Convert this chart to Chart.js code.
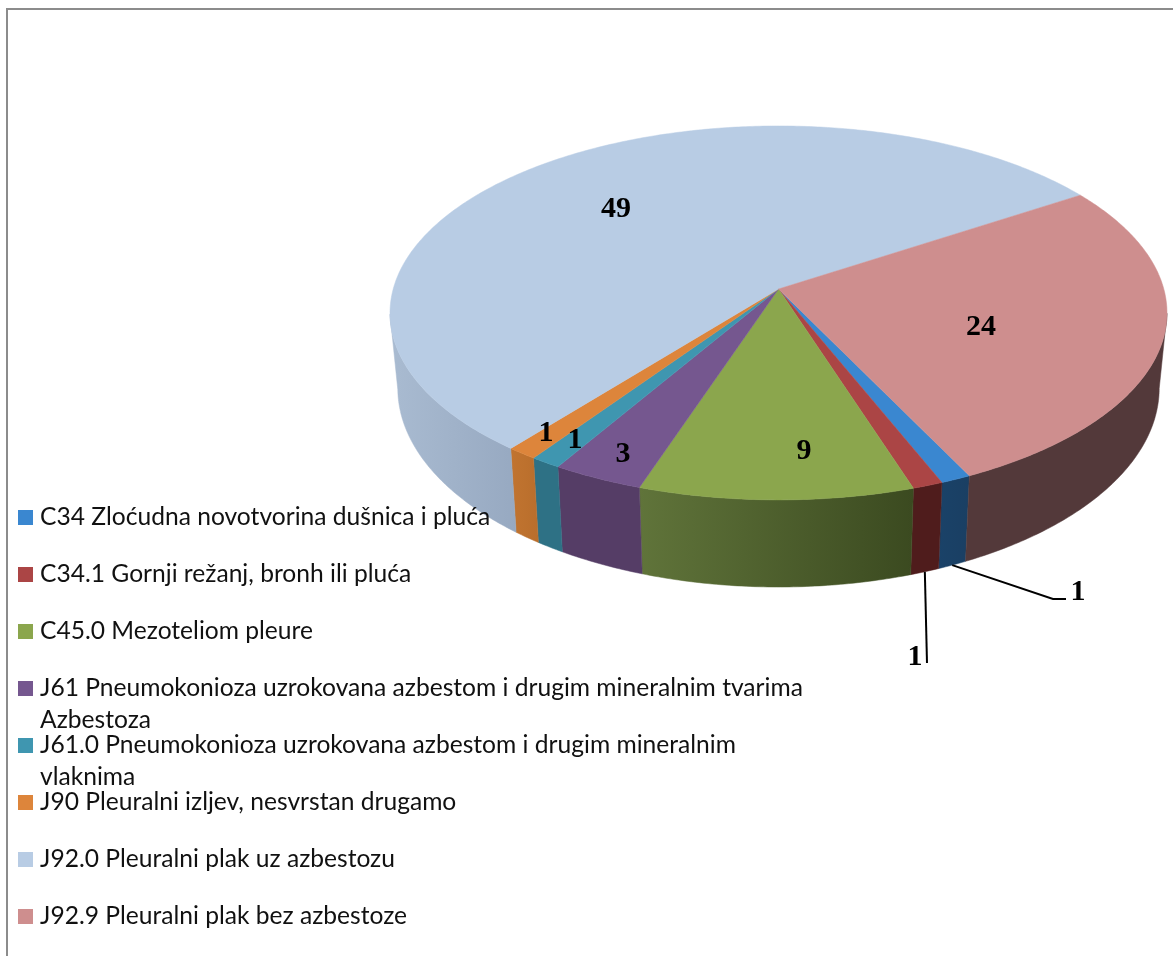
<!DOCTYPE html>
<html><head><meta charset="utf-8">
<style>html,body{margin:0;padding:0;background:#fff;overflow:hidden}canvas{display:block}</style>
<script src="https://cdn.jsdelivr.net/npm/chart.js@4"></script>
</head><body><canvas id="c" width="1173" height="956"></canvas>
<script>
const categories = [
  ["C34 Zloćudna novotvorina dušnica i pluća"],
  ["C34.1 Gornji režanj, bronh ili pluća"],
  ["C45.0 Mezoteliom pleure"],
  ["J61 Pneumokonioza uzrokovana azbestom i drugim mineralnim tvarima","Azbestoza"],
  ["J61.0 Pneumokonioza uzrokovana azbestom i drugim mineralnim","vlaknima"],
  ["J90 Pleuralni izljev, nesvrstan drugamo"],
  ["J92.0 Pleuralni plak uz azbestozu"],
  ["J92.9 Pleuralni plak bez azbestoze"]
];
const values = [1,1,9,3,1,1,49,24];
const topColors = ["#3a87d0","#ab4545","#8ba64d","#75578f","#3f96b0","#dd853b","#b8cce4","#ce8e8e"];
const wallLeft  = ["#1a4268","#4f1c1c","#60743a","#553d66","#2e7185","#c17430","#a9bbd1","#53393a"];
const wallRight = ["#1a3f63","#4f1c1c","#3b4a20","#553d66","#2e7185","#b96e2c","#97a9c1","#53393a"];
const labelSpots = [[1078,590],[915,655],[804,449],[623,452],[575,438],[546,431],[616,207],[981,325]];
const leaderBends = [[[1053,599],[1066,599]],[[927,663]],null,null,null,null,null,null];

const P = {cx:778.5, cy:289, R:385.3, Ry:183.9, k:0.128, cyB:362.6, RyB:195.7, shrink:0.98};
const topPt = a => {const w=1-P.k*Math.sin(a);return [P.cx+P.R*Math.cos(a)/w, P.cy+P.Ry*Math.sin(a)/w];};
const botPt = a => {const w=1-P.k*Math.sin(a);return [P.cx+P.shrink*P.R*Math.cos(a)/w, P.cyB+P.RyB*Math.sin(a)/w];};
const arcAngles = (s,e) => {const n=Math.max(2,Math.ceil((e-s)/0.01));return Array.from({length:n+1},(_,i)=>s+(e-s)*i/n);};

const pie3d = {
  id:'pie3d',
  beforeDatasetsDraw(chart){
    const ctx=chart.ctx, arcs=chart.getDatasetMeta(0).data;
    ctx.save(); ctx.lineJoin='round';
    // walls: only the part in front of the two side tangents
    arcs.forEach((el,i)=>{
      const angs=arcAngles(el.startAngle,el.endAngle).filter(a=>Math.sin(a)>P.k);
      if(angs.length<2) return;
      const t=angs.map(topPt), b=angs.map(botPt).reverse(), pts=t.concat(b);
      const xs=pts.map(p=>p[0]);
      const g=ctx.createLinearGradient(Math.min(...xs),0,Math.max(...xs),0);
      g.addColorStop(0,wallLeft[i]); g.addColorStop(1,wallRight[i]);
      ctx.beginPath(); pts.forEach((p,j)=>j?ctx.lineTo(p[0],p[1]):ctx.moveTo(p[0],p[1])); ctx.closePath();
      ctx.fillStyle=g; ctx.strokeStyle=g; ctx.lineWidth=0.5; ctx.fill(); ctx.stroke();
    });
    // tops
    arcs.forEach((el,i)=>{
      const pts=arcAngles(el.startAngle,el.endAngle).map(topPt);
      ctx.beginPath(); ctx.moveTo(P.cx,P.cy); pts.forEach(p=>ctx.lineTo(p[0],p[1])); ctx.closePath();
      ctx.fillStyle=topColors[i]; ctx.strokeStyle=topColors[i]; ctx.lineWidth=0.5; ctx.fill(); ctx.stroke();
    });
    ctx.restore();
    return false;
  },
  afterDraw(chart){
    const ctx=chart.ctx, arcs=chart.getDatasetMeta(0).data;
    ctx.save();
    // frame
    ctx.strokeStyle='#8c8c8c'; ctx.lineWidth=2;
    ctx.beginPath(); ctx.moveTo(7,956); ctx.lineTo(7,9); ctx.lineTo(1173,9); ctx.stroke();
    // leader lines
    ctx.strokeStyle='#000'; ctx.lineWidth=2;
    arcs.forEach((el,i)=>{
      if(!leaderBends[i]) return;
      const s=botPt((el.startAngle+el.endAngle)/2);
      ctx.beginPath(); ctx.moveTo(s[0],s[1]); leaderBends[i].forEach(p=>ctx.lineTo(p[0],p[1])); ctx.stroke();
    });
    // value labels
    ctx.fillStyle='#000'; ctx.font='bold 30px "Liberation Serif"'; ctx.textAlign='center'; ctx.textBaseline='alphabetic';
    values.forEach((v,i)=>ctx.fillText(String(v),labelSpots[i][0],labelSpots[i][1]+10));
    // legend
    ctx.textAlign='left'; ctx.font='24.6px Lato';
    categories.forEach((lines,i)=>{
      const base=525+57*i;
      ctx.fillStyle=topColors[i]; ctx.fillRect(18,base-15,15,15);
      ctx.fillStyle='#111';
      lines.forEach((t,j)=>ctx.fillText(t,40,base+j*32));
    });
    ctx.restore();
  }
};
new Chart(document.getElementById('c'),{
  type:'pie',
  data:{labels:categories.map(c=>c.join(' ')),datasets:[{data:values,backgroundColor:topColors,borderWidth:0}]},
  options:{responsive:false,animation:false,rotation:154,
    plugins:{legend:{display:false},tooltip:{enabled:false}}},
  plugins:[pie3d]
});
</script></body></html>
